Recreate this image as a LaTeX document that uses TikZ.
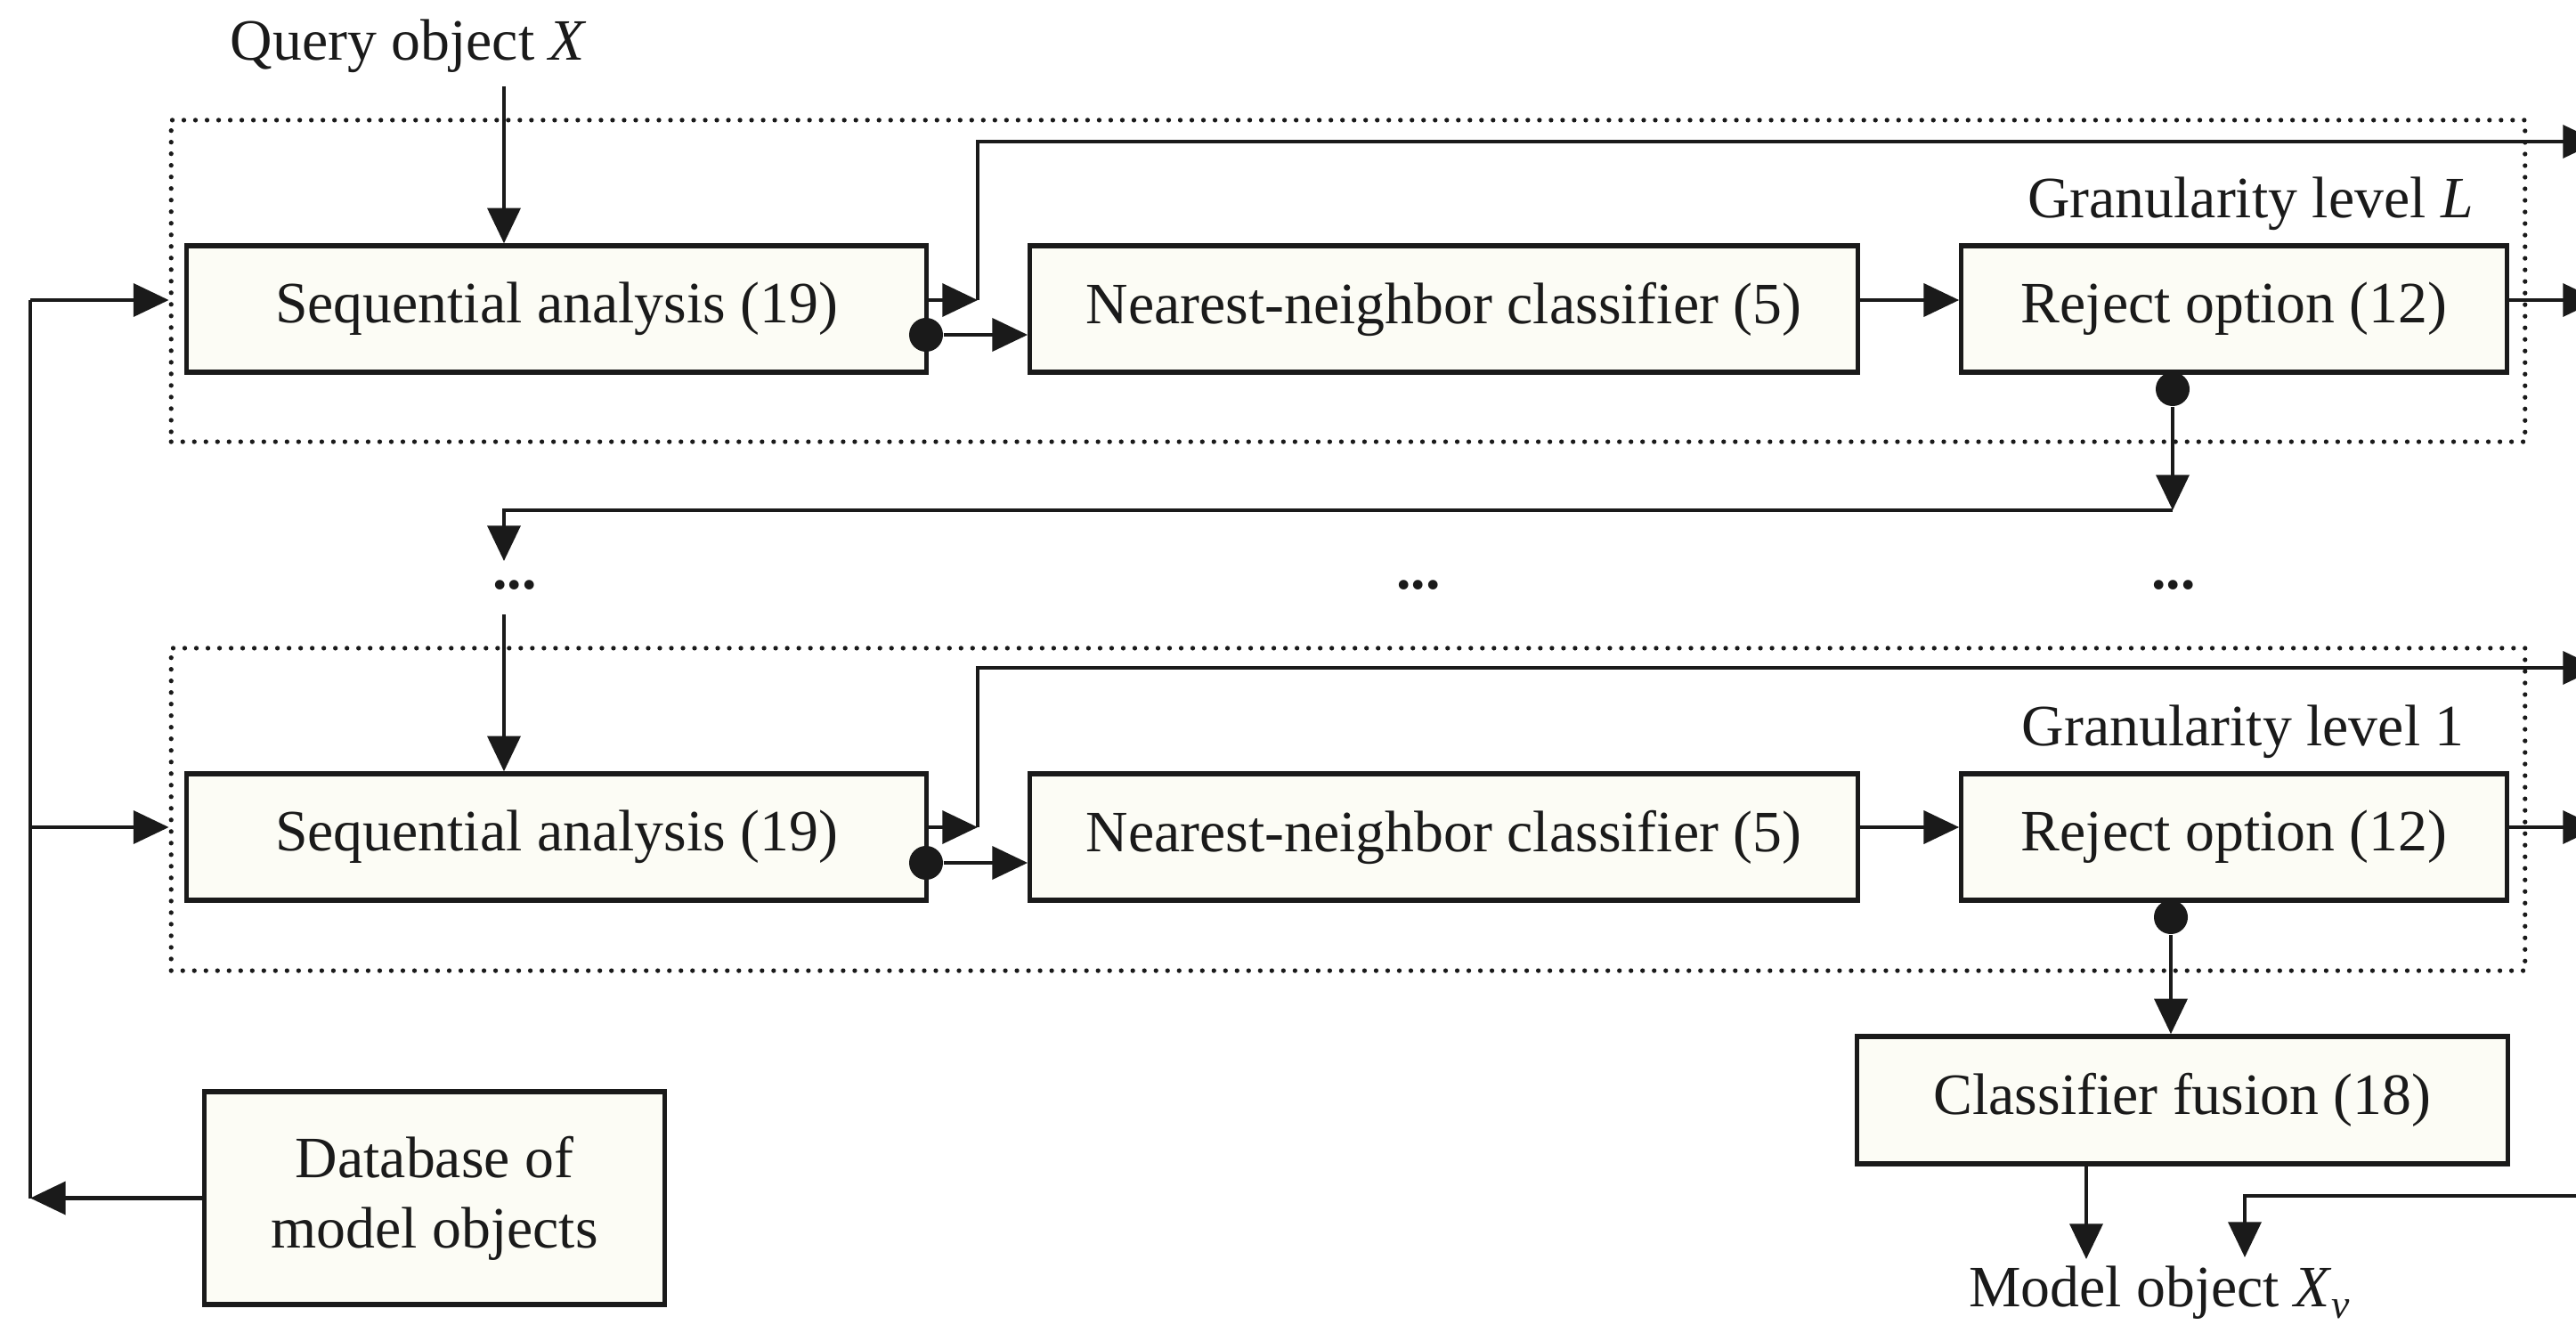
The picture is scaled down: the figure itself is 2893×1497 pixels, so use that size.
\documentclass[tikz,border=0pt]{standalone}
\usepackage{fontspec}
\setmainfont{Liberation Serif}
\usetikzlibrary{arrows.meta}
\definecolor{boxfill}{RGB}{252,252,245}
\definecolor{ink}{RGB}{26,26,26}
\begin{document}
\begin{tikzpicture}[x=0.01cm,y=-0.01cm,
  every node/.style={font=\fontsize{18.7pt}{22.4pt}\selectfont, text=ink},
  box/.style={draw=ink, line width=1.5pt, fill=boxfill, inner sep=0pt, align=center},
  dotbox/.style={draw=ink, line width=1.5pt, dash pattern=on 0pt off 3.7pt, line cap=round, inner sep=0pt},
  line/.style={draw=ink, line width=1.15pt},
  conn/.style={line, -{Triangle[length=11.3pt,width=10.5pt]}},
  dotn/.style={circle, fill=ink, minimum size=0.38cm, inner sep=0pt},
  ell/.style={anchor=base, font=\fontsize{18.7pt}{22.4pt}\selectfont\bfseries}
]
\useasboundingbox (0,0) rectangle (2893,1497);

% level frames
\node[dotbox, minimum width=26.42cm, minimum height=3.61cm] (lvlL) at (1514,315.5) {};
\node[dotbox, minimum width=26.42cm, minimum height=3.62cm] (lvl1) at (1514,909) {};

% level L
\node[box, minimum width=8.30cm, minimum height=1.42cm] (seqL) at (625,347) {Sequential analysis (19)};
\node[box, minimum width=9.29cm, minimum height=1.42cm] (nnL) at (1621.5,347) {Nearest-neighbor classifier (5)};
\node[box, minimum width=6.12cm, minimum height=1.42cm] (rejL) at (2509,347) {Reject option (12)};
\node[anchor=base east] (gL) at (2790,245) {Granularity level \textit{L}};

% level 1
\node[box, minimum width=8.30cm, minimum height=1.42cm] (seq1) at (625,940) {Sequential analysis (19)};
\node[box, minimum width=9.29cm, minimum height=1.42cm] (nn1) at (1621.5,940) {Nearest-neighbor classifier (5)};
\node[box, minimum width=6.12cm, minimum height=1.42cm] (rej1) at (2509,940) {Reject option (12)};
\node[anchor=base east] (g1) at (2780,837) {Granularity level 1};

% other boxes
\node[box, minimum width=7.30cm, minimum height=1.43cm] (fus) at (2451,1235.5) {Classifier fusion (18)};
\node[box, minimum width=5.16cm, minimum height=2.39cm] (db) at (488,1345.5) {Database of\\model objects};

% texts
\node[anchor=base] (q) at (459,68) {Query object \textit{X}};
\node[anchor=base] (m) at (2425,1467) {Model object \textit{X}\raisebox{-0.2em}{\fontsize{13pt}{13pt}\selectfont\textit{v}}};
\node[ell] (e1) at (578,661) {...};
\node[ell] (e2) at (1593,661) {...};
\node[ell] (e3) at (2441,661) {...};

% dots
\node[dotn] (sdL) at (1040,376) {};
\node[dotn] (rdL) at (2440,437) {};
\node[dotn] (sd1) at (1040,969) {};
\node[dotn] (rd1) at (2438,1030) {};

% coordinates
\coordinate (qs) at (566,97);
\coordinate (busTop) at (34,337);
\coordinate (busMid) at (34,929);
\coordinate (busBot) at (34,1345.5);
\coordinate (cL) at (1098,337);
\coordinate (c1) at (1098,929);
\coordinate (outL) at (2918,159);
\coordinate (out1) at (2918,750);
\coordinate (rL) at (2918,337);
\coordinate (r1) at (2918,929);
\coordinate (jL) at (2440,573);
\coordinate (aL) at (566,630);
\coordinate (s1) at (566,690);
\coordinate (m1) at (2343,1414);
\coordinate (m2) at (2521,1412);
\coordinate (rin) at (2900,1343);

% connectors
\draw[conn] (qs) -- (qs |- seqL.north);
\draw[conn] (db.west) -- (busBot);
\draw[line] (busBot) -- (busTop);
\draw[conn] (busTop) -- (busTop -| lvlL.west);
\draw[conn] (busMid) -- (busMid -| lvl1.west);

\draw[conn] (seqL.east |- cL) -- (cL);
\draw[conn] (cL) |- (outL);
\draw[conn] (sdL) -- (sdL -| nnL.west);
\draw[conn] (nnL.east |- cL) -- (rejL.west |- cL);
\draw[conn] (rejL.east |- cL) -- (rL);
\draw[conn] (rdL) -- (jL);
\draw[conn] (jL) -| (aL);
\draw[conn] (s1) -- (s1 |- seq1.north);

\draw[conn] (seq1.east |- c1) -- (c1);
\draw[conn] (c1) |- (out1);
\draw[conn] (sd1) -- (sd1 -| nn1.west);
\draw[conn] (nn1.east |- c1) -- (rej1.west |- c1);
\draw[conn] (rej1.east |- c1) -- (r1);
\draw[conn] (rd1) -- (rd1 |- fus.north);

\draw[conn] (m1 |- fus.south) -- (m1);
\draw[conn] (rin) -| (m2);
\end{tikzpicture}
\end{document}
